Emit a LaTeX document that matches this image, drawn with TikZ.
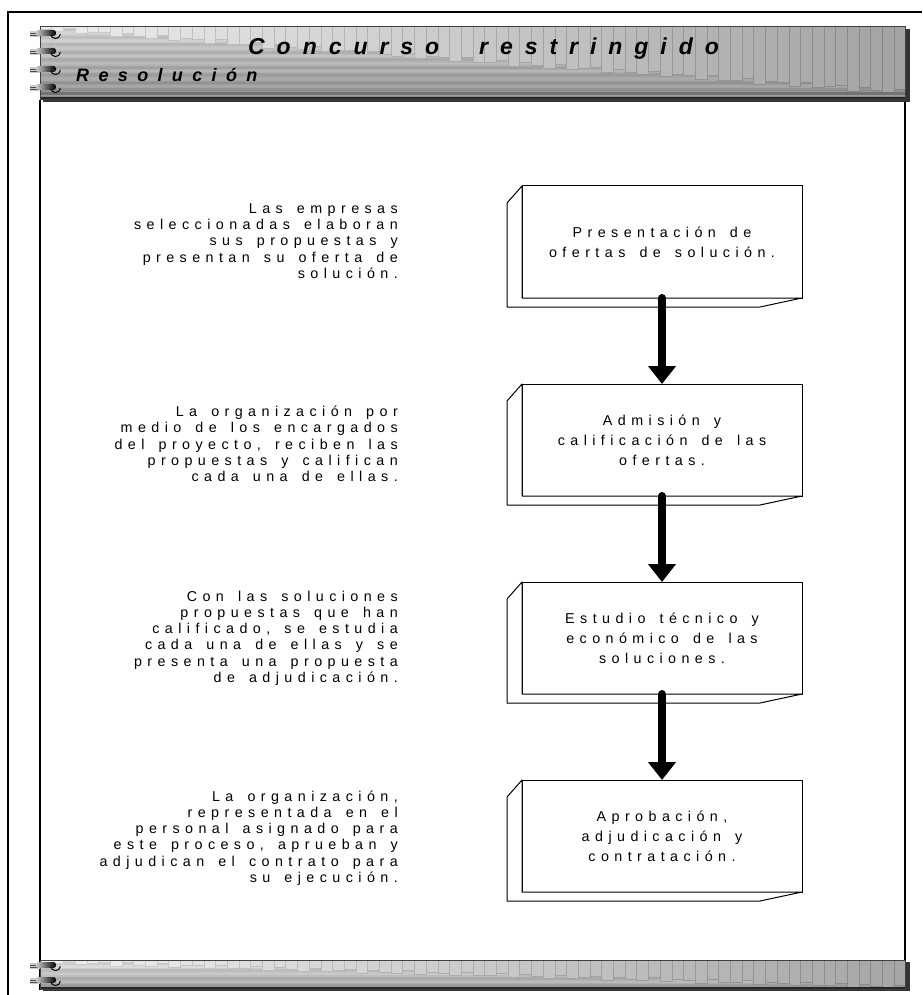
\documentclass[tikz,border=0pt]{standalone}
\usepackage{fontspec}
\setmainfont{Liberation Sans}
\newfontfamily\spacedfont[LetterSpace=38,WordSpace=1.5]{Liberation Sans}
\newfontfamily\headfont[LetterSpace=52]{Liberation Sans}
\newfontfamily\subheadfont[LetterSpace=52]{Liberation Sans}
\usetikzlibrary{arrows.meta}

\tikzset{
  frameline/.style={line width=1.4pt, black},
  stepbox/.style={draw=black, line width=1pt, fill=white, minimum width=280pt,
    minimum height=112pt, inner sep=0pt, outer sep=0pt, align=center,
    font=\spacedfont\fontsize{14.3}{20}\selectfont},
  sideface/.style={draw=black, line width=1pt, fill=white, line join=round},
  note/.style={anchor=east, align=right, inner sep=0pt,
    font=\spacedfont\fontsize{14.3}{16.2}\selectfont},
  flow/.style={line width=8pt, line cap=round, black,
    -{Triangle[width=27pt,length=18pt]}},
  headtitle/.style={anchor=base west, inner sep=0pt,
    font=\headfont\bfseries\itshape\fontsize{23}{26}\selectfont},
  subtitle/.style={anchor=base west, inner sep=0pt,
    font=\subheadfont\bfseries\itshape\fontsize{18}{20}\selectfont},
}

% one ring of the spiral binding, centred at height #1
\newcommand\bindring[1]{%
  \fill[black!20] (30,#1-3) rectangle (40,#1+3);
  \draw[black!70, line width=0.8pt] (30,#1-1) -- (40,#1-1);
  \draw[black!70, line width=0.8pt] (30,#1+1.8) -- (40,#1+1.8);
  \shade[left color=black!20, right color=black, rounded corners=2.5pt]
    (36,#1-4) rectangle (56,#1+2);
  \draw[line width=1pt] (51,#1+1) arc[start angle=180, end angle=360,
    x radius=4.5pt, y radius=3.5pt] -- (60,#1);
}

\begin{document}
\begin{tikzpicture}[x=1pt, y=-1pt]
\useasboundingbox (0,0) rectangle (922,995);
\fill[white] (0,0) rectangle (922,995);

% outer frame
\draw[frameline] (8,995) -- (8,12) -- (922,12);
% inner page edges
\draw[frameline] (40,100) -- (40,990);
\draw[frameline] (905,100) -- (905,990);

% ---------- header banner ----------
\begin{scope}
  \clip (40,27) rectangle (905,100);
  \foreach \j in {0,...,48} {
    \pgfmathsetmacro\ya{27+1.5*\j}
    \pgfmathsetmacro\k{18+26*\j/48+5*sin(\j*71)}
    \fill[black!\k] (40,\ya) rectangle (905,\ya+1.6);
  }
  \foreach \i in {0,...,73} {
    \pgfmathsetmacro\xa{40+\i*11.7}
    \pgfmathsetmacro\yb{29+0.86*\i+2.5*sin(\i*137)}
    \pgfmathsetmacro\k{7+29*\i/73}
    \pgfmathsetmacro\kb{\k+12}
    \filldraw[fill=black!\k, draw=black!\kb, line width=0.6pt]
      (\xa,26) rectangle (\xa+11.7,\yb);
  }
  \fill[black!55] (40,92.5) rectangle (905,95.5);
  \fill[black!85] (40,97.5) rectangle (905,100);
\end{scope}
\fill[black!80] (905,29) rectangle (909.5,102);
\fill[black!80] (43,100) rectangle (909.5,102);
\draw[black!75, line width=1pt] (40,27) rectangle (905,100);

% title, set as two words with a wide gap between them
\node[headtitle] (title) at (248,55) {Concurso};
\node[headtitle] (title2) at (479,55) {restringido};
\node[subtitle] (subtitle) at (76,82) {Resolución};

\bindring{34}
\bindring{52}
\bindring{70}
\bindring{88}

% ---------- footer banner ----------
\begin{scope}
  \clip (40,960) rectangle (905,989);
  \foreach \j in {0,...,20} {
    \pgfmathsetmacro\ya{960+1.5*\j}
    \pgfmathsetmacro\k{14+26*\j/20+5*sin(\j*71)}
    \fill[black!\k] (40,\ya) rectangle (905,\ya+1.6);
  }
  \foreach \i in {0,...,73} {
    \pgfmathsetmacro\xa{40+\i*11.7}
    \pgfmathsetmacro\yb{962+0.34*\i+2*sin(\i*137)}
    \pgfmathsetmacro\k{6+29*\i/73}
    \pgfmathsetmacro\kb{\k+12}
    \filldraw[fill=black!\k, draw=black!\kb, line width=0.6pt]
      (\xa,959) rectangle (\xa+11.7,\yb);
  }
  \fill[black!85] (40,987) rectangle (905,989);
\end{scope}
\fill[black!80] (905,962) rectangle (909.5,991);
\fill[black!80] (43,989) rectangle (909.5,991);
\draw[black!75, line width=1pt] (40,960) rectangle (905,989);

\bindring{966}
\bindring{981}

% ---------- process steps ----------
\node[stepbox] (b1) at (662,242) {Presentación de\\ofertas de solución.};
\node[stepbox] (b2) at (662,440) {Admisión y\\calificación de las\\ofertas.};
\node[stepbox] (b3) at (662,638) {Estudio técnico y\\económico de las\\soluciones.};
\node[stepbox] (b4) at (662,836) {Aprobación,\\adjudicación y\\contratación.};

\foreach \b in {b1,b2,b3,b4} {
  \draw[sideface] (\b.north west) -- ++(-15,17) -- ++(0,104) -- ++(253,0)
    -- (\b.south east) -- (\b.south west) -- cycle;
}

\draw[flow] (b1.south) -- (b2.north);
\draw[flow] (b2.south) -- (b3.north);
\draw[flow] (b3.south) -- (b4.north);

% ---------- explanations ----------
\node[note] (n1) at (398,241) {Las empresas\\seleccionadas elaboran\\sus propuestas y\\presentan su oferta de\\solución.};
\node[note] (n2) at (398,444) {La organización por\\medio de los encargados\\del proyecto, reciben las\\propuestas y califican\\cada una de ellas.};
\node[note] (n3) at (398,638) {Con las soluciones\\propuestas que han\\calificado, se estudia\\cada una de ellas y se\\presenta una propuesta\\de adjudicación.};
\node[note] (n4) at (398,838) {La organización,\\representada en el\\personal asignado para\\este proceso, aprueban y\\adjudican el contrato para\\su ejecución.};
\end{tikzpicture}
\end{document}
